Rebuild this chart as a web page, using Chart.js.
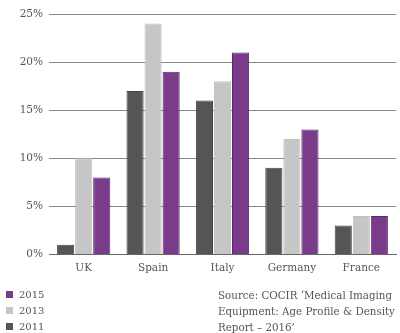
<!DOCTYPE html>
<html>
<head>
<meta charset="utf-8">
<script src="https://cdn.jsdelivr.net/npm/chart.js@4"></script>
<style>
  body { margin: 0; background: #fff; }
  #wrap { position: relative; width: 400px; height: 333px; font-family: "DejaVu Serif", serif; color: #555; }
  #legend { position: absolute; left: 6px; top: 287px; font-size: 10px; line-height: 16px; }
  #legend span.box { display: inline-block; width: 7px; height: 7px; margin-right: 6px; }
  #source { position: absolute; left: 218px; top: 287px; font-size: 10.3px; line-height: 16px; }
</style>
</head>
<body>
<div id="wrap">
  <canvas id="myChart" width="400" height="333"></canvas>
  <div id="legend"></div>
  <div id="source">Source: COCIR ‘Medical Imaging<br>Equipment: Age Profile &amp; Density<br>Report – 2016’</div>
</div>
<script>
  var countries = ['UK', 'Spain', 'Italy', 'Germany', 'France'];
  var years = ['2011', '2013', '2015'];
  var v2011 = [1, 17, 16, 9, 3];
  var v2013 = [10, 24, 18, 12, 4];
  var v2015 = [8, 19, 21, 13, 4];
  var yTicks = [0, 5, 10, 15, 20, 25];
  var colors = ['#555555', '#c6c6c6', '#7a3b8a'];
  var borders = ['#444444', '#c0c0c0', '#5e2a6c'];

  var data = {
    labels: countries,
    datasets: [v2011, v2013, v2015].map(function (vals, i) {
      return {
        label: years[i],
        data: vals,
        backgroundColor: colors[i],
        borderColor: borders[i],
        borderWidth: 1,
        categoryPercentage: 0.78,
        barPercentage: 0.95
      };
    })
  };

  // config
  var config = {
    type: 'bar',
    data: data,
    options: {
      responsive: false,
      animation: false,
      layout: { padding: { top: 14, right: 4, bottom: 58, left: 2 } },
      plugins: {
        legend: { display: false },
        tooltip: { enabled: false }
      },
      scales: {
        x: {
          grid: { display: false },
          border: { color: '#666', width: 1 },
          ticks: { color: '#555', font: { family: 'DejaVu Serif', size: 10.5 }, padding: 0 }
        },
        y: {
          min: 0,
          max: 25,
          afterBuildTicks: function (axis) {
            axis.ticks = yTicks.map(function (v) { return { value: v }; });
          },
          afterFit: function (axis) { axis.width = 47; },
          grid: { color: '#888', lineWidth: 1, drawTicks: false },
          border: { display: false },
          ticks: {
            color: '#555',
            padding: 6,
            font: { family: 'DejaVu Serif', size: 10.5 },
            callback: function (v) { return v + '%'; }
          }
        }
      }
    }
  };

  var myChart = new Chart(document.getElementById('myChart'), config);

  // legend, newest year first
  var legend = document.getElementById('legend');
  for (var i = years.length - 1; i >= 0; i--) {
    var row = document.createElement('div');
    row.innerHTML = '<span class="box" style="background:' + colors[i] + '"></span>' + years[i];
    legend.appendChild(row);
  }
</script>
</body>
</html>
